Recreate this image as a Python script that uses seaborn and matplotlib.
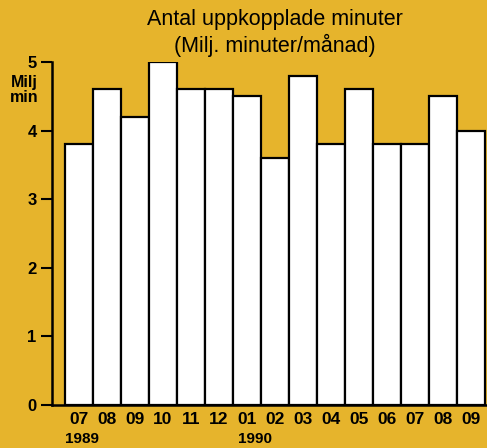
import matplotlib
matplotlib.use("Agg")
import matplotlib.pyplot as plt
import seaborn as sns
import pandas as pd

# Antal uppkopplade minuter, milj. minuter per månad
manader = ["07", "08", "09", "10", "11", "12", "01", "02", "03",
           "04", "05", "06", "07", "08", "09"]
minuter = [3.8, 4.6, 4.2, 5.0, 4.6, 4.6, 4.5, 3.6, 4.8,
           3.8, 4.6, 3.8, 3.8, 4.5, 4.0]
ar_etiketter = [(0.1, "1989"), (6.3, "1990")]

bakgrund = "#e6b42c"

df = pd.DataFrame({"pos": [str(i) for i in range(len(manader))], "varde": minuter})

sns.set_style("white")
plt.rcParams["font.family"] = ["Liberation Sans", "DejaVu Sans"]
plt.rcParams["text.color"] = "black"
plt.rcParams["xtick.color"] = "black"
plt.rcParams["ytick.color"] = "black"

fig = plt.figure(figsize=(4.87, 4.48), dpi=100, facecolor=bakgrund)
ax = fig.add_axes([52 / 487, (448 - 405) / 448, 435 / 487, (405 - 62) / 448])
ax.set_facecolor(bakgrund)

sns.barplot(data=df, x="pos", y="varde", color="white", edgecolor="black",
            linewidth=1.6, width=1.0, saturation=1, ax=ax)

ax.set_xlim(-0.964, 14.57)
ax.set_ylim(0, 5)
ax.set_yticks([0, 1, 2, 3, 4, 5])
ax.set_yticklabels(["0", "1", "2", "3", "4", "5"], fontweight="bold", fontsize=12)
ax.set_xticks(range(len(manader)))
ax.set_xticklabels(manader, fontweight="bold", fontsize=12.5)
ax.tick_params(axis="y", left=True, length=8, width=1.5, pad=3, direction="out")
ax.tick_params(axis="x", bottom=False, length=0, pad=5)
ax.set_xlabel("")
ax.set_ylabel("")

for side in ["top", "right"]:
    ax.spines[side].set_visible(False)
for side in ["left", "bottom"]:
    ax.spines[side].set_linewidth(1.8)
    ax.spines[side].set_color("black")

for x, txt in ar_etiketter:
    ax.text(x, -0.5, txt, ha="center", va="center", fontsize=11,
            fontweight="bold", transform=ax.transData, clip_on=False)

fig.text(24 / 487, 1 - 90 / 448, "Milj\nmin", ha="center", va="center",
         fontsize=11.5, fontweight="bold", linespacing=1.05)
fig.text(275 / 487, 1 - 20 / 448, "Antal uppkopplade minuter",
         ha="center", va="center", fontsize=15.5)
fig.text(275 / 487, 1 - 45 / 448, "(Milj. minuter/månad)",
         ha="center", va="center", fontsize=15.5)

fig.savefig("out.png", dpi=100, facecolor=bakgrund)
